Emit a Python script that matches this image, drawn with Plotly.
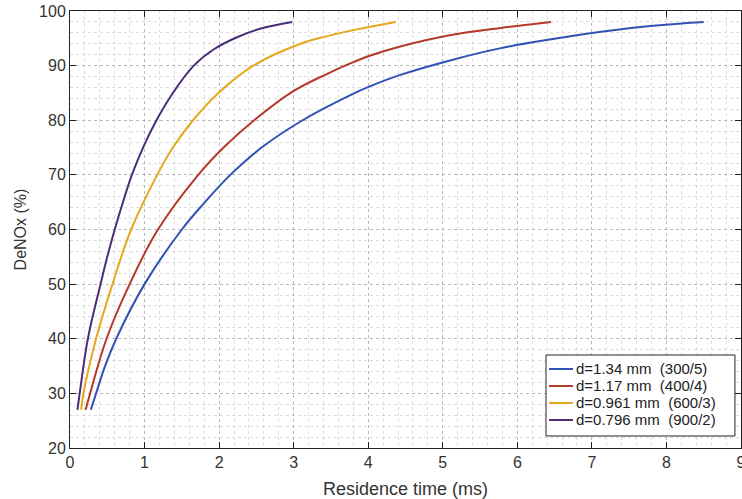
import plotly.graph_objects as go

# Data (residence time in ms, DeNOx in %)
t_134 = [0.28, 0.35, 0.47, 0.62, 1.00, 1.50, 1.81, 2.15, 2.57, 3.12, 3.76, 4.02, 4.43, 5.11, 5.78, 6.58, 6.86, 7.75, 8.50]
y_134 = [27.0, 30.0, 35.0, 40.0, 50.0, 60.0, 65.0, 70.0, 75.0, 80.0, 84.6, 86.2, 88.3, 91.0, 93.2, 95.1, 95.7, 97.2, 98.0]

t_117 = [0.21, 0.27, 0.49, 0.80, 1.18, 1.72, 2.06, 2.47, 2.98, 3.45, 3.76, 4.02, 4.43, 5.11, 5.78, 6.45]
y_117 = [27.0, 30.0, 40.0, 50.0, 60.0, 70.0, 75.0, 80.0, 85.2, 88.5, 90.4, 91.8, 93.5, 95.6, 96.9, 98.0]

t_0961 = [0.15, 0.18, 0.35, 0.57, 0.82, 1.17, 1.38, 1.65, 1.99, 2.46, 3.09, 3.36, 3.80, 4.37]
y_0961 = [27.0, 30.0, 40.0, 50.0, 60.0, 70.0, 75.0, 80.0, 85.0, 90.0, 94.0, 95.1, 96.5, 98.0]

t_0796 = [0.10, 0.13, 0.24, 0.41, 0.50, 0.60, 0.71, 0.83, 0.98, 1.16, 1.38, 1.66, 1.93, 2.24, 2.56, 2.98]
y_0796 = [27.0, 30.0, 40.0, 50.0, 55.0, 60.0, 65.0, 70.0, 75.0, 80.0, 85.0, 90.0, 93.0, 95.2, 96.8, 98.0]

names = ["d=1.34 mm\u00a0\u00a0(300/5)", "d=1.17 mm\u00a0\u00a0(400/4)",
         "d=0.961 mm\u00a0\u00a0(600/3)", "d=0.796 mm\u00a0\u00a0(900/2)"]
colors = ["#3052B5", "#B5392A", "#E6A81C", "#4C2E78"]

x_ticks = [0, 1, 2, 3, 4, 5, 6, 7, 8, 9]
y_ticks = [20, 30, 40, 50, 60, 70, 80, 90, 100]

font = "Liberation Sans, Arial, Helvetica, sans-serif"

fig = go.Figure()
for t, y, n, c in zip([t_134, t_117, t_0961, t_0796],
                      [y_134, y_117, y_0961, y_0796], names, colors):
    fig.add_trace(go.Scatter(x=t, y=y, mode="lines", name=n, showlegend=False,
                             line=dict(color=c, width=2, shape="spline", smoothing=1.1)))

# Legend box (MATLAB style, tight rows)
box_x0, box_x1, box_y0, box_y1 = 0.7094, 0.991, 0.0275, 0.2128
row_y = [0.1808, 0.1419, 0.1030, 0.0641]
fig.add_shape(type="rect", xref="paper", yref="paper", x0=box_x0, x1=box_x1,
              y0=box_y0, y1=box_y1, line=dict(color="#222222", width=1),
              fillcolor="white", layer="above")
for ry, n, c in zip(row_y, names, colors):
    fig.add_shape(type="line", xref="paper", yref="paper", x0=0.7139, x1=0.7496,
                  y0=ry, y1=ry, line=dict(color=c, width=2), layer="above")
    fig.add_annotation(xref="paper", yref="paper", x=0.7505, y=ry, text=n,
                       showarrow=False, xanchor="left", yanchor="middle",
                       font=dict(size=15, color="#222222", family=font))

axis_common = dict(
    showline=True, linecolor="#222222", linewidth=1, mirror="ticks",
    ticks="inside", ticklen=6, tickcolor="#222222",
    showgrid=True, gridcolor="rgba(150,150,150,0.5)", griddash="dot", gridwidth=1,
    zeroline=False,
    tickfont=dict(size=16, color="#333333", family=font),
)
minor_common = dict(showgrid=True, gridcolor="rgba(170,170,170,0.4)",
                    griddash="dot", gridwidth=1)

fig.update_layout(
    width=742, height=499,
    margin=dict(l=70, r=1, t=11, b=51),
    paper_bgcolor="white", plot_bgcolor="white",
    font=dict(family=font, color="#333333"),
    showlegend=False,
)
fig.update_xaxes(range=[0, 9], tickvals=x_ticks, ticktext=[str(v) for v in x_ticks],
                 title=dict(text="Residence time (ms)", font=dict(size=18)),
                 automargin=False, ticklabeloverflow="allow",
                 minor=dict(dtick=0.2, **minor_common), **axis_common)
fig.update_yaxes(range=[20, 100], tickvals=y_ticks, ticktext=[str(v) for v in y_ticks],
                 title=dict(text="DeNOx (%)", font=dict(size=16), standoff=8),
                 automargin=True,
                 minor=dict(dtick=2, **minor_common), **axis_common)

fig.write_html("out.html", config={"displayModeBar": False},
               post_script="document.body.style.margin='0px';")
